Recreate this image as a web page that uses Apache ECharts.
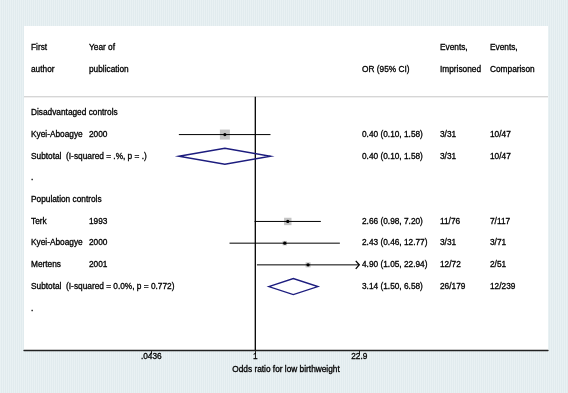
<!DOCTYPE html>
<html>
<head>
<meta charset="utf-8">
<script src="https://cdn.jsdelivr.net/npm/echarts@6/dist/echarts.min.js"></script>
<style>
  html, body { margin: 0; padding: 0; }
  #forest {
    width: 568px; height: 393px;
    background: repeating-linear-gradient(90deg, #e9f1f3 0px, #e9f1f3 1px, #e1ebee 1px, #e1ebee 2px);
  }
</style>
</head>
<body>
<div id="forest"></div>
<script>
// rows of the plot, top to bottom
const rowLabels = ['Disadvantaged controls', 'Kyei-Aboagye', 'Subtotal  (I-squared = .%, p = .)', '.',
  'Population controls', 'Terk', 'Kyei-Aboagye', 'Mertens', 'Subtotal  (I-squared = 0.0%, p = 0.772)', '.'];
const rowYears = ['', '2000', '', '', '', '1993', '2000', '2001', '', ''];
const rowKinds = ['group', 'study', 'subtotal', 'blank', 'group', 'study', 'study', 'study', 'subtotal', 'blank'];
const orEst = [null, 0.40, 0.40, null, null, 2.66, 2.43, 4.90, 3.14, null];
const orLow = [null, 0.10, 0.10, null, null, 0.98, 0.46, 1.05, 1.50, null];
const orHigh = [null, 1.58, 1.58, null, null, 7.20, 12.77, 22.94, 6.58, null];
const studyWeights = [null, 100, null, null, null, 55, 20, 25, null, null];
const eventsImprisoned = ['', '3/31', '3/31', '', '', '11/76', '3/31', '12/72', '26/179', ''];
const eventsComparison = ['', '10/47', '10/47', '', '', '7/117', '3/71', '2/51', '12/239', ''];

// header lines
const headFirst = ['First', 'author'];
const headYear = ['Year of', 'publication'];
const headOR = ['', 'OR (95% CI)'];
const headImprisoned = ['Events,', 'Imprisoned'];
const headComparison = ['Events,', 'Comparison'];

// x axis ticks
const tickValues = [0.0436, 1, 22.9];
const tickLabels = ['.0436', '1', '22.9'];

const FAMILY = '"Liberation Sans", Arial, sans-serif';
const FONT = '8.3px ' + FAMILY;
const col = { first: 31, year: 89, ci: 362, imp: 440, comp: 490 };
const navy = '#1c1c7e';
const ln = Math.log;
const xMin = -6.967, xMax = 8.816;
const clipHigh = ln(tickValues[tickValues.length - 1]);
const clipLow = ln(tickValues[0]);
const sepRow = -0.74;

function txt(x, y, s) {
  return { type: 'text', style: { x: x, y: y, text: s, fill: '#000', stroke: '#000', lineWidth: 0.3,
    font: FONT, verticalAlign: 'middle', textAlign: 'left' } };
}

function renderRow(params, api) {
  const i = params.dataIndex;
  const y = api.coord([0, i])[1];
  const kids = [txt(col.first, y, rowLabels[i])];
  if (rowYears[i]) kids.push(txt(col.year, y, rowYears[i]));
  if (orEst[i] != null) {
    kids.push(txt(col.ci, y, orEst[i].toFixed(2) + ' (' + orLow[i].toFixed(2) + ', ' + orHigh[i].toFixed(2) + ')'));
    kids.push(txt(col.imp, y, eventsImprisoned[i]));
    kids.push(txt(col.comp, y, eventsComparison[i]));
    const xl = api.coord([Math.max(ln(orLow[i]), clipLow), i])[0];
    const xh = api.coord([Math.min(ln(orHigh[i]), clipHigh), i])[0];
    const xe = api.coord([ln(orEst[i]), i])[0];
    if (rowKinds[i] === 'study') {
      const s = 10 * Math.sqrt(studyWeights[i] / 100);
      kids.push({ type: 'rect', shape: { x: xe - s / 2, y: y - s / 2, width: s, height: s }, style: { fill: '#c4c4c4' } });
      kids.push({ type: 'line', shape: { x1: xl, y1: y, x2: xh, y2: y }, style: { stroke: '#000', lineWidth: 1 } });
      kids.push({ type: 'circle', shape: { cx: xe, cy: y, r: 1.6 }, style: { fill: '#000' } });
      if (ln(orHigh[i]) > clipHigh) {
        kids.push({ type: 'polyline', shape: { points: [[xh - 3.5, y - 4], [xh, y], [xh - 3.5, y + 4]] },
          style: { stroke: '#000', lineWidth: 1.3, fill: null } });
      }
    } else {
      const h = 8;
      kids.push({ type: 'polygon', shape: { points: [[xl, y], [xe, y - h], [xh, y], [xe, y + h]] },
        style: { stroke: navy, lineWidth: 1.4, fill: null } });
    }
  }
  return { type: 'group', children: kids };
}

function renderHeader(params, api) {
  const i = params.dataIndex;
  const y = api.coord([0, -3 + i])[1];
  return { type: 'group', children: [
    txt(col.first, y, headFirst[i]), txt(col.year, y, headYear[i]), txt(col.ci, y, headOR[i]),
    txt(col.imp, y, headImprisoned[i]), txt(col.comp, y, headComparison[i])
  ] };
}

function renderFrame(params, api) {
  const a = api.coord([xMin, sepRow]);
  const b = api.coord([xMax, sepRow]);
  const n0 = api.coord([0, sepRow]);
  const n1 = api.coord([0, 10.92]);
  return { type: 'group', children: [
    { type: 'line', shape: { x1: a[0], y1: a[1], x2: b[0], y2: b[1] }, style: { stroke: '#c6c6c6', lineWidth: 1 } },
    { type: 'line', shape: { x1: n0[0], y1: n0[1], x2: n1[0], y2: n1[1] }, style: { stroke: '#000', lineWidth: 1.3 } }
  ] };
}

const chart = echarts.init(document.getElementById('forest'), null, { renderer: 'canvas', width: 568, height: 393 });
chart.setOption({
  backgroundColor: 'transparent',
  animation: false,
  grid: { left: 24, right: 20, top: 26, bottom: 43, show: true, backgroundColor: '#fff', borderWidth: 0 },
  xAxis: {
    type: 'value', min: xMin, max: xMax,
    name: 'Odds ratio for low birthweight', nameLocation: 'middle', nameGap: 14,
    nameTextStyle: { color: '#000', fontSize: 8.3, fontFamily: FAMILY, textBorderColor: '#000', textBorderWidth: 0.3 },
    axisLine: { show: true, onZero: false, lineStyle: { color: '#222', width: 1.3 } },
    axisTick: { show: true, length: 4, customValues: tickValues.map(ln), lineStyle: { color: '#222', width: 1 } },
    axisLabel: {
      show: true, customValues: tickValues.map(ln), margin: 3, color: '#000', fontSize: 8.3,
      fontFamily: FAMILY, textBorderColor: '#000', textBorderWidth: 0.3,
      formatter: function (v) {
        const k = tickValues.findIndex(t => Math.abs(ln(t) - v) < 1e-6);
        return k >= 0 ? tickLabels[k] : '';
      }
    },
    splitLine: { show: false }
  },
  yAxis: { type: 'value', inverse: true, min: -4, max: 10.92, show: false, splitLine: { show: false } },
  series: [
    { type: 'custom', renderItem: renderFrame, data: [[0, 0]], clip: false, silent: true },
    { type: 'custom', renderItem: renderHeader, data: [[0, -3], [0, -2]], clip: false, silent: true },
    { type: 'custom', renderItem: renderRow, data: rowLabels.map((_, i) => [0, i]), clip: false, silent: true }
  ]
});
</script>
</body>
</html>
